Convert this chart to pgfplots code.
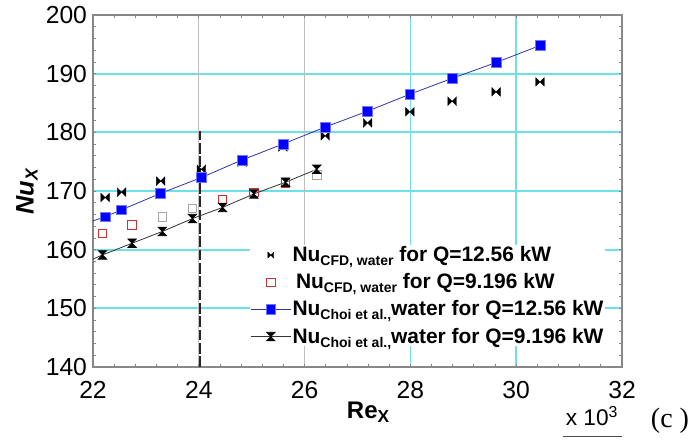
\documentclass[border=0pt]{standalone}
\usepackage{pgfplots}
\pgfplotsset{compat=1.18}
\usepackage{fontspec}
\setmainfont{Liberation Sans}
\newfontfamily\timesfont{Liberation Serif}

\definecolor{gridcyan}{RGB}{110,225,230}
\definecolor{gridgray}{RGB}{190,190,190}
\definecolor{axisgray}{RGB}{135,135,135}
\definecolor{cfdred}{RGB}{200,50,50}
\definecolor{choiblue}{RGB}{50,50,170}

\newcommand{\sub}[1]{\raisebox{-3pt}{\fontsize{10.5}{11}\selectfont #1}}

% horizontal bow tie (two triangles pointing to the centre)
\pgfdeclareplotmark{bowtie}{%
  \pgfpathmoveto{\pgfqpoint{-\pgfplotmarksize}{\pgfplotmarksize}}%
  \pgfpathlineto{\pgfqpoint{-\pgfplotmarksize}{-\pgfplotmarksize}}%
  \pgfpathlineto{\pgfqpoint{\pgfplotmarksize}{\pgfplotmarksize}}%
  \pgfpathlineto{\pgfqpoint{\pgfplotmarksize}{-\pgfplotmarksize}}%
  \pgfpathclose
  \pgfusepathqfillstroke}
% hourglass
\pgfdeclareplotmark{hourglass}{%
  \pgfpathmoveto{\pgfqpoint{-\pgfplotmarksize}{\pgfplotmarksize}}%
  \pgfpathlineto{\pgfqpoint{\pgfplotmarksize}{\pgfplotmarksize}}%
  \pgfpathlineto{\pgfqpoint{-\pgfplotmarksize}{-\pgfplotmarksize}}%
  \pgfpathlineto{\pgfqpoint{\pgfplotmarksize}{-\pgfplotmarksize}}%
  \pgfpathclose
  \pgfusepathqfillstroke}

\pgfplotsset{
  lineleg/.style={legend image code/.code={%
    \draw[##1, mark=none] (0pt,0pt) -- (30pt,0pt);
    \draw[##1, only marks, mark indices={1}] plot coordinates {(15pt,0pt)};}},
  bowleg/.style={legend image code/.code={\draw[##1, mark size=2.2pt] plot coordinates {(15pt,0pt)};}},
  sqleg/.style={legend image code/.code={\draw[##1] plot coordinates {(15pt,0pt)};}},
}

\begin{document}
\begin{tikzpicture}
\useasboundingbox (-69.75pt,-60.75pt) rectangle (452.25pt,275.25pt);
\begin{axis}[
  scale only axis,
  width=396.75pt, height=264pt,
  xmin=22, xmax=32, ymin=140, ymax=200,
  xtick={22,28,30,32},
  extra x ticks={24,26},
  extra x tick style={grid=major, major grid style={gridgray, line width=0.6pt}},
  ytick={140,150,...,200},
  minor xtick={22,22.4,...,32},
  minor ytick={140,142,...,200},
  xmajorgrids, ymajorgrids,
  major grid style={gridcyan, line width=1.3pt},
  tick align=inside,
  major tick length=2.5pt, minor tick length=2.5pt,
  every tick/.style={axisgray, line width=0.6pt},
  axis line style={axisgray, line width=0.9pt},
  tick label style={font=\fontsize{18.5}{20}\selectfont, /pgf/number format/assume math mode=true},
  xticklabel style={yshift=-7pt},
  yticklabel style={xshift=-1pt},
  xlabel={\textbf{Re}\raisebox{-3pt}{\fontsize{13}{14}\selectfont\bfseries X}},
  xlabel style={at={(axis description cs:0.52,-0.128)}, anchor=center, font=\fontsize{18}{20}\selectfont},
  ylabel={\textbf{\textit{Nu}}\raisebox{-3pt}{\fontsize{13}{14}\selectfont\bfseries\itshape X}},
  ylabel style={at={(axis description cs:-0.125,0.497)}, anchor=center, font=\fontsize{19}{21}\selectfont},
  legend style={draw=none, fill=white, inner sep=0pt, at={(0.297,0.347)}, anchor=north west,
    font=\bfseries\fontsize{15.7}{17}\selectfont, row sep=5.5pt,
    nodes={inner xsep=1pt, inner ysep=1pt},
    /tikz/every even column/.append style={column sep=0pt}},
  legend cell align=left,
]
% dashed reference line
\addplot[black!85, line width=1.5pt, dash pattern=on 8pt off 2pt, forget plot]
  coordinates {(24.02,140) (24.02,180.3)};

% CFD, Q=9.196 kW (grey-looking squares, drawn first)
\addplot[only marks, mark=square, mark size=3.2pt, mark options={draw=gray!70, line width=0.6pt}, forget plot]
  coordinates {(23.31,165.6) (23.88,167.0) (26.23,172.7)};

% Nu CFD, Q=12.56 kW
\addplot[only marks, mark=bowtie, mark size=3.2pt, mark options={fill=black, draw=black, line width=0.3pt}, bowleg]
  coordinates {(22.23,168.9) (22.54,169.8) (23.28,171.7) (24.05,173.7) (24.82,174.9) (25.59,177.5)
    (26.39,179.4) (27.19,181.6) (27.99,183.5) (28.79,185.3) (29.62,186.9) (30.45,188.6)};
\addlegendentry{{Nu\sub{CFD, water} for Q=12.56 kW}}

% Nu CFD, Q=9.196 kW
\addplot[only marks, mark=square, mark size=3.2pt, mark options={draw=cfdred, line width=0.6pt}, sqleg]
  coordinates {(22.18,162.8) (22.74,164.2) (24.45,168.6) (25.04,169.8) (25.64,171.4)};
\addlegendentry{{\,Nu\sub{CFD, water} for Q=9.196 kW}}

% Nu Choi et al., Q=12.56 kW
\addplot[choiblue, line width=0.6pt, mark=square*, mark size=3.7pt, mark indices={2,...,13},
  mark options={fill=blue, draw=blue!55!white, line width=0.5pt, solid}, lineleg]
  coordinates {(22,164.9) (22.23,165.6) (22.54,166.8) (23.28,169.6) (24.05,172.3) (24.82,175.3) (25.59,178.0)
    (26.39,180.9) (27.19,183.6) (27.99,186.5) (28.79,189.2) (29.62,191.9) (30.45,194.8)};
\addlegendentry{{Nu\sub{Choi et al.,}water for Q=12.56 kW}}

% Nu Choi et al., Q=9.196 kW
\addplot[black!80, line width=0.6pt, mark=hourglass, mark size=3.2pt, mark indices={2,...,9},
  mark options={fill=black, draw=black, line width=0.5pt, solid}, lineleg]
  coordinates {(22,158.4) (22.18,159.1) (22.74,161.1) (23.31,163.1) (23.88,165.3) (24.45,167.2)
    (25.04,169.5) (25.64,171.5) (26.23,173.7)};
\addlegendentry{{Nu\sub{Choi et al.,}water for Q=9.196 kW}}
\end{axis}
\node[font=\fontsize{17}{19}\selectfont] at (374.25pt,-37pt) {x 10\textsuperscript{3}};
\draw[black!70, line width=0.7pt] (352.5pt,-52pt) -- (396.75pt,-52pt);
\node[font=\timesfont\fontsize{21}{23}\selectfont] at (432.75pt,-40.5pt) {(c )};
\end{tikzpicture}
\end{document}
